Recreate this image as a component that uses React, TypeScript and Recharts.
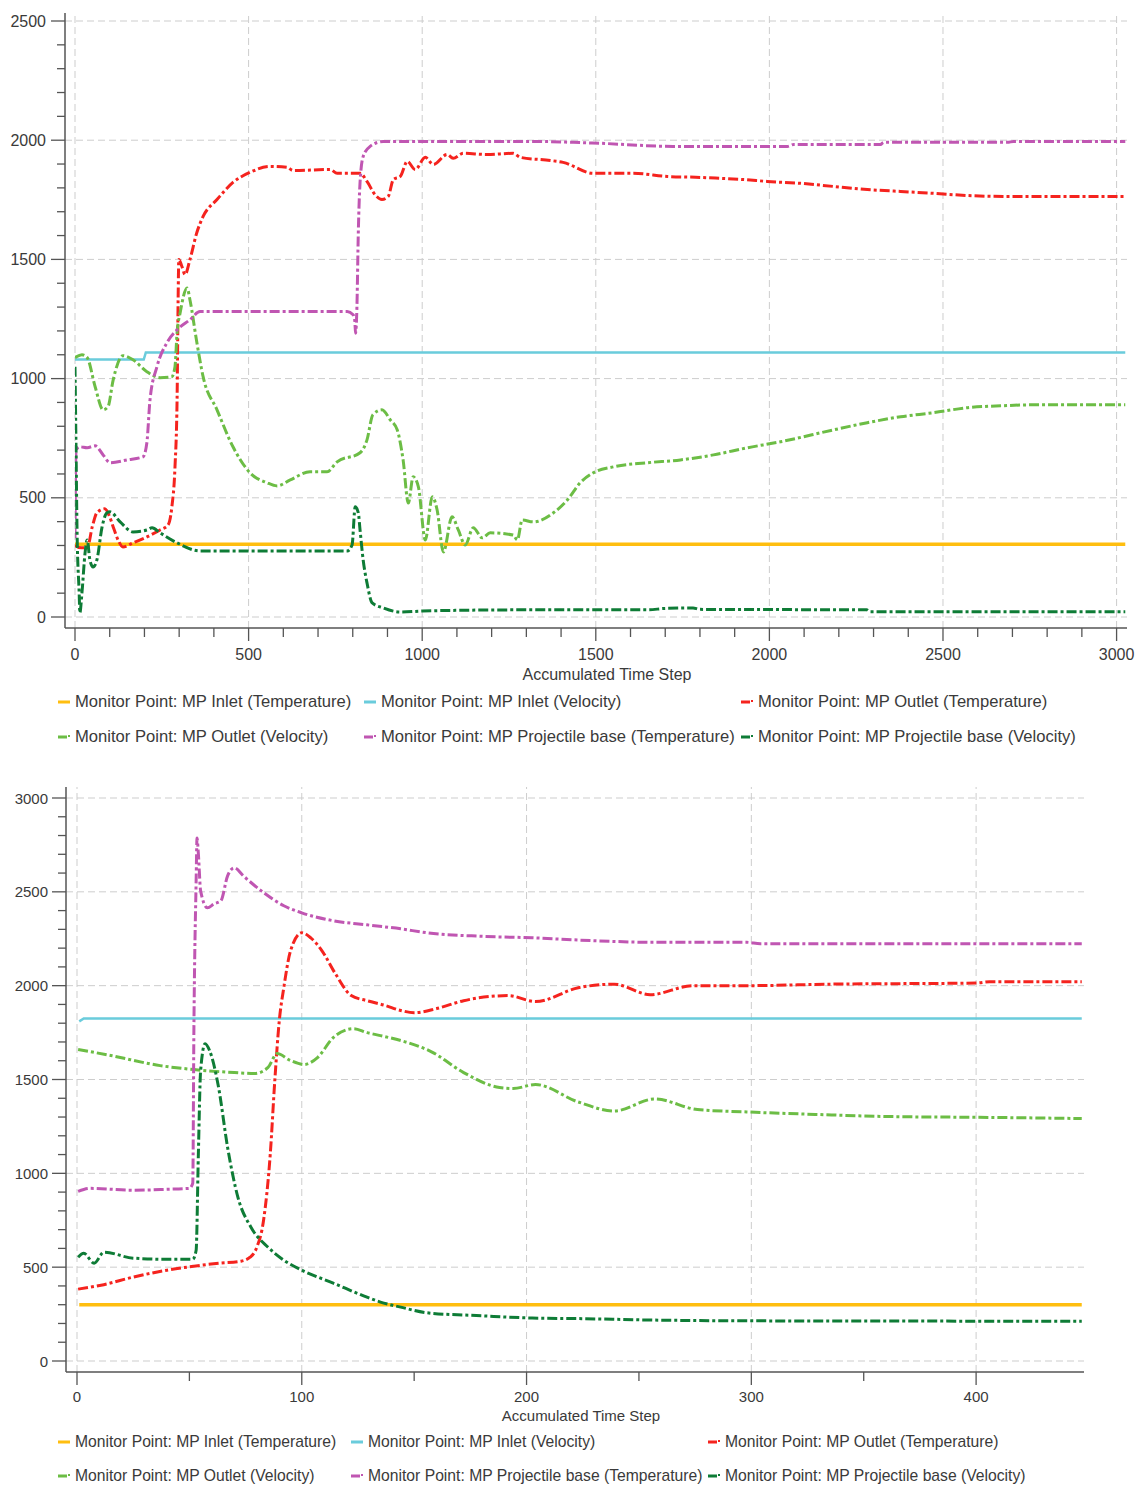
import React from 'react';
import { LineChart, Line, XAxis, YAxis, ReferenceLine, Label } from 'recharts';

type Pt = [number, number];

const SERIES_NAMES = [
  'Monitor Point: MP Inlet (Temperature)',
  'Monitor Point: MP Inlet (Velocity)',
  'Monitor Point: MP Outlet (Temperature)',
  'Monitor Point: MP Outlet (Velocity)',
  'Monitor Point: MP Projectile base (Temperature)',
  'Monitor Point: MP Projectile base (Velocity)',
];
const SERIES_COLORS = ['#FFBE0F', '#6ACCDC', '#F5231E', '#6CBD45', '#C056B2', '#0E7C36'];
const SERIES_SOLID = [true, true, false, false, false, false];

const X_TITLE = 'Accumulated Time Step';

// ---------- Top chart (full run) ----------
const topXTicks = [0, 100, 200, 300, 400, 500, 600, 700, 800, 900, 1000, 1100, 1200, 1300, 1400, 1500, 1600, 1700, 1800, 1900, 2000, 2100, 2200, 2300, 2400, 2500, 2600, 2700, 2800, 2900, 3000];
const topYTicks = [0, 100, 200, 300, 400, 500, 600, 700, 800, 900, 1000, 1100, 1200, 1300, 1400, 1500, 1600, 1700, 1800, 1900, 2000, 2100, 2200, 2300, 2400, 2500];
const topGridX = [0, 500, 1000, 1500, 2000, 2500, 3000];
const topGridY = [0, 500, 1000, 1500, 2000, 2500];

const topInletTemp: Pt[] = [[0, 305], [3025, 305]];
const topInletVel: Pt[] = [[0, 1080], [198, 1080], [204, 1110], [3025, 1110]];
const topOutletTemp: Pt[] = [
  [0, 300], [10, 292], [35, 290], [50, 380], [63, 437], [86, 454], [100, 420], [110, 378], [125, 320], [138, 294],
  [167, 311], [207, 336], [245, 365], [268, 386], [279, 462], [288, 630], [294, 911], [297, 1331], [299, 1500],
  [308, 1470], [317, 1436], [331, 1499], [351, 1613], [369, 1680], [409, 1751], [455, 1823], [504, 1865], [562, 1890],
  [611, 1886], [628, 1873], [735, 1877], [755, 1861], [821, 1861], [841, 1827], [865, 1770], [884, 1751], [902, 1764],
  [917, 1835], [937, 1848], [957, 1911], [980, 1877], [1009, 1928], [1032, 1898], [1072, 1940], [1089, 1924],
  [1118, 1945], [1187, 1940], [1262, 1945], [1283, 1928], [1369, 1915], [1406, 1907], [1493, 1861], [1608, 1861],
  [1706, 1848], [1801, 1844], [1859, 1840], [1925, 1835], [1994, 1827], [2090, 1819], [2185, 1806], [2282, 1793],
  [2378, 1785], [2473, 1777], [2571, 1768], [2686, 1764], [3025, 1764],
];
const topOutletVel: Pt[] = [
  [0, 1088], [20, 1100], [35, 1088], [58, 966], [81, 869], [95, 882], [110, 995], [138, 1096], [167, 1079], [207, 1029],
  [245, 1004], [279, 1008], [288, 1050], [294, 1193], [303, 1277], [323, 1380], [331, 1331], [351, 1151], [369, 1008],
  [409, 869], [455, 714], [504, 605], [553, 563], [582, 550], [620, 575], [677, 609], [726, 609], [755, 651], [821, 689],
  [841, 743], [858, 848], [884, 869], [908, 827], [928, 785], [945, 659], [960, 478], [974, 588], [989, 546],
  [1009, 323], [1029, 504], [1043, 449], [1061, 273], [1086, 420], [1104, 365], [1124, 302], [1147, 374], [1173, 332],
  [1196, 353], [1262, 344], [1274, 323], [1288, 407], [1320, 399], [1378, 437], [1418, 491], [1455, 563], [1493, 605],
  [1551, 630], [1648, 647], [1744, 659], [1839, 680], [1937, 710], [2032, 735], [2185, 785], [2282, 815], [2378, 840],
  [2473, 857], [2571, 878], [2666, 886], [2761, 890], [3025, 890],
];
const topProjTemp: Pt[] = [
  [0, 330], [3, 701], [14, 714], [35, 710], [58, 718], [81, 680], [101, 647], [150, 659], [196, 672], [207, 731],
  [216, 911], [236, 1050], [265, 1151], [294, 1205], [331, 1247], [360, 1281], [784, 1281], [801, 1268], [806, 1240],
  [808, 1190], [812, 1300], [816, 1613], [821, 1823], [830, 1932], [850, 1974], [888, 1995], [1320, 1995], [1435, 1991],
  [1513, 1987], [1723, 1974], [2052, 1974], [2070, 1982], [2320, 1982], [2329, 1991], [2686, 1991], [2703, 1995],
  [3025, 1995],
];
const topProjVel: Pt[] = [
  [0, 1050], [3, 701], [6, 353], [12, 101], [14, 17], [20, 101], [29, 269], [35, 323], [43, 239], [52, 210], [63, 239],
  [78, 378], [92, 437], [101, 441], [130, 399], [167, 357], [207, 365], [222, 374], [245, 353], [294, 311], [360, 277],
  [784, 277], [798, 302], [807, 462], [816, 437], [821, 365], [830, 239], [841, 143], [856, 59], [888, 38], [937, 21],
  [1000, 25], [1100, 28], [1300, 30], [1650, 30], [1700, 36], [1780, 38], [1800, 32], [2280, 30], [2290, 22], [3025, 22],
];

// ---------- Bottom chart (early steps) ----------
const botXTicks = [0, 50, 100, 150, 200, 250, 300, 350, 400];
const botYTicks = [0, 100, 200, 300, 400, 500, 600, 700, 800, 900, 1000, 1100, 1200, 1300, 1400, 1500, 1600, 1700, 1800, 1900, 2000, 2100, 2200, 2300, 2400, 2500, 2600, 2700, 2800, 2900, 3000];
const botGridX = [0, 100, 200, 300, 400];
const botGridY = [0, 500, 1000, 1500, 2000, 2500, 3000];

const botInletTemp: Pt[] = [[1, 300], [447, 300]];
const botInletVel: Pt[] = [[1, 1810], [3, 1825], [447, 1825]];
const botOutletTemp: Pt[] = [
  [0.5, 383], [10.7, 404], [25, 447], [40, 484], [52, 505], [63, 521], [73, 532], [77, 553], [80, 606], [83, 750],
  [86, 1106], [88, 1495], [90, 1814], [92, 1989], [95, 2186], [100, 2282], [104, 2255], [109, 2186], [115, 2063],
  [122, 1947], [129, 1920], [137, 1895], [144, 1868], [150, 1856], [160, 1878], [172, 1920], [192, 1947], [204, 1915],
  [223, 1989], [239, 2008], [255, 1952], [274, 2000], [298, 2000], [335, 2008], [400, 2014], [406, 2021], [447, 2021],
];
const botOutletVel: Pt[] = [
  [0.5, 1660], [15, 1628], [37, 1574], [52, 1553], [70, 1537], [79, 1532], [85, 1564], [89, 1638], [95, 1601],
  [101, 1580], [107, 1617], [114, 1723], [123, 1771], [129, 1750], [135, 1734], [147, 1697], [157.5, 1649], [172, 1537],
  [188, 1457], [194, 1452], [204, 1473], [223, 1380], [239, 1332], [257, 1396], [276, 1340], [298, 1327], [328.5, 1314],
  [359, 1303], [406, 1298], [447, 1292],
];
const botProjTemp: Pt[] = [
  [0.5, 904], [6, 920], [25, 910], [40, 915], [50, 920], [51.5, 947], [52, 1761], [53, 2558], [53.4, 2787], [54, 2702],
  [55, 2505], [58, 2415], [61, 2436], [64, 2452], [67, 2585], [70, 2628], [74, 2585], [82, 2505], [92, 2426],
  [100, 2388], [114, 2346], [129, 2324], [144, 2303], [155.6, 2282], [180, 2263], [202.5, 2255], [229, 2240],
  [257, 2231], [298, 2231], [304, 2223], [447, 2223],
];
const botProjVel: Pt[] = [
  [0.5, 553], [3, 574], [7.6, 521], [12, 580], [25, 548], [40, 542], [51.5, 542], [53, 590], [54, 1106], [55, 1548],
  [57, 1691], [59, 1654], [63, 1457], [67, 1138], [71.6, 872], [77.4, 713], [85, 606], [92, 537], [100, 484],
  [114, 415], [129, 340], [135, 314], [144, 287], [155.6, 257], [180, 241], [202.5, 229], [223, 226], [257, 218],
  [300, 214], [447, 212],
];

const topSeries: Pt[][] = [topInletTemp, topInletVel, topOutletTemp, topOutletVel, topProjTemp, topProjVel];
const botSeries: Pt[][] = [botInletTemp, botInletVel, botOutletTemp, botOutletVel, botProjTemp, botProjVel];

const toRows = (pts: Pt[]) => pts.map(([x, y]) => ({ x, y }));

const FONT = '"Liberation Sans", Arial, sans-serif';
const AXIS_COLOR = '#555';
const TEXT_COLOR = '#3a3a3a';
const GRID_COLOR = '#cdcdcd';

const makeXTick = (major: number, fontSize: number, labelDy: number) => (props: any) => {
  const { x, y, payload } = props;
  const v = payload.value;
  const isMajor = v % major === 0;
  return (
    <g>
      <line x1={x} y1={y} x2={x} y2={y + (isMajor ? 13 : 9)} stroke={AXIS_COLOR} strokeWidth={1.3} />
      {isMajor && (
        <text x={x} y={y + labelDy} textAnchor="middle" dominantBaseline="central" fontSize={fontSize} fontFamily={FONT} fill={TEXT_COLOR}>
          {v}
        </text>
      )}
    </g>
  );
};

const makeYTick = (major: number, fontSize: number, labelDx: number) => (props: any) => {
  const { x, y, payload } = props;
  const v = payload.value;
  const isMajor = v % major === 0;
  return (
    <g>
      <line x1={x - (isMajor ? 14 : 8)} y1={y} x2={x} y2={y} stroke={AXIS_COLOR} strokeWidth={1.3} />
      {isMajor && (
        <text x={x - labelDx} y={y} textAnchor="end" dominantBaseline="central" fontSize={fontSize} fontFamily={FONT} fill={TEXT_COLOR}>
          {v}
        </text>
      )}
    </g>
  );
};

const makeTitle = (fontSize: number, dx: number, dy: number) => (props: any) => {
  const vb = props.viewBox || { x: 0, y: 0, width: 0, height: 0 };
  return (
    <text x={vb.x + vb.width / 2 + dx} y={vb.y + dy} textAnchor="middle" dominantBaseline="central" fontSize={fontSize} fontFamily={FONT} fill={TEXT_COLOR}>
      {X_TITLE}
    </text>
  );
};

function renderLines(series: Pt[][]) {
  return series.map((pts, i) => (
    <Line
      key={i}
      data={toRows(pts)}
      dataKey="y"
      name={SERIES_NAMES[i]}
      type={SERIES_SOLID[i] ? 'linear' : 'monotone'}
      stroke={SERIES_COLORS[i]}
      strokeWidth={SERIES_SOLID[i] ? (i === 0 ? 3.5 : 2.5) : 3}
      strokeDasharray={SERIES_SOLID[i] ? undefined : '10 3 3 3'}
      dot={false}
      activeDot={false}
      isAnimationActive={false}
    />
  ));
}

function LegendIcon({ index }: { index: number }) {
  const c = SERIES_COLORS[index];
  return (
    <svg width={12} height={4} style={{ marginRight: 5, flex: 'none' }}>
      {SERIES_SOLID[index] ? (
        <rect x={0} y={0.5} width={12} height={3} fill={c} />
      ) : (
        <g>
          <rect x={0} y={0.5} width={9} height={3} fill={c} />
          <rect x={10} y={0} width={2} height={2} fill={c} />
        </g>
      )}
    </svg>
  );
}

function LegendBlock({ rows, cols, fontSize }: { rows: number[]; cols: number[]; fontSize: number }) {
  return (
    <>
      {SERIES_NAMES.map((name, i) => {
        const row = Math.floor(i / 3);
        const col = i % 3;
        return (
          <div
            key={i}
            style={{
              position: 'absolute',
              left: cols[col] - 17,
              top: rows[row] - 11,
              height: 22,
              display: 'flex',
              alignItems: 'center',
              whiteSpace: 'nowrap',
              fontFamily: FONT,
              fontSize,
              color: TEXT_COLOR,
            }}
          >
            <LegendIcon index={i} />
            <span>{name}</span>
          </div>
        );
      })}
    </>
  );
}

export default function App() {
  return (
    <div style={{ position: 'absolute', left: 0, top: 0, width: 1136, height: 1485, background: '#fff', fontFamily: FONT }}>
      <div style={{ position: 'absolute', left: 0, top: 0 }}>
        <LineChart width={1136} height={700} margin={{ top: 13, right: 9, bottom: 0, left: 0 }}>
          <XAxis
            type="number"
            dataKey="x"
            domain={[0, 3030]}
            ticks={topXTicks}
            interval={0}
            tickSize={0}
            tickMargin={0}
            tickLine={false}
            tick={makeXTick(500, 16, 26)}
            axisLine={{ stroke: AXIS_COLOR, strokeWidth: 1.5 }}
            padding={{ left: 10, right: 0 }}
            height={72}
            allowDataOverflow
          >
            <Label content={makeTitle(16, 11, 46)} />
          </XAxis>
          <YAxis
            type="number"
            domain={[0, 2500]}
            ticks={topYTicks}
            interval={0}
            width={65}
            tickSize={0}
            tickMargin={0}
            tickLine={false}
            tick={makeYTick(500, 16, 19)}
            axisLine={{ stroke: AXIS_COLOR, strokeWidth: 1.5 }}
            padding={{ top: 8, bottom: 11 }}
            allowDataOverflow
          />
          {topGridX.map((v) => (
            <ReferenceLine key={'gx' + v} x={v} stroke={GRID_COLOR} strokeDasharray="7 4" strokeWidth={1} />
          ))}
          {topGridY.map((v) => (
            <ReferenceLine key={'gy' + v} y={v} stroke={GRID_COLOR} strokeDasharray="7 4" strokeWidth={1} />
          ))}
          {renderLines(topSeries)}
        </LineChart>
      </div>
      <LegendBlock rows={[702, 737]} cols={[75, 381, 758]} fontSize={16.6} />

      <div style={{ position: 'absolute', left: 0, top: 760 }}>
        <LineChart width={1136} height={672} margin={{ top: 27, right: 52, bottom: 0, left: 0 }}>
          <XAxis
            type="number"
            dataKey="x"
            domain={[0, 448]}
            ticks={botXTicks}
            interval={0}
            tickSize={0}
            tickMargin={0}
            tickLine={false}
            tick={makeXTick(100, 15, 24.5)}
            axisLine={{ stroke: AXIS_COLOR, strokeWidth: 1.5 }}
            padding={{ left: 11, right: 0 }}
            height={60}
            allowDataOverflow
          >
            <Label content={makeTitle(15, 6, 43)} />
          </XAxis>
          <YAxis
            type="number"
            domain={[0, 3000]}
            ticks={botYTicks}
            interval={0}
            width={66}
            tickSize={0}
            tickMargin={0}
            tickLine={false}
            tick={makeYTick(500, 15, 18)}
            axisLine={{ stroke: AXIS_COLOR, strokeWidth: 1.5 }}
            padding={{ top: 11, bottom: 11 }}
            allowDataOverflow
          />
          {botGridX.map((v) => (
            <ReferenceLine key={'gx' + v} x={v} stroke={GRID_COLOR} strokeDasharray="7 4" strokeWidth={1} />
          ))}
          {botGridY.map((v) => (
            <ReferenceLine key={'gy' + v} y={v} stroke={GRID_COLOR} strokeDasharray="7 4" strokeWidth={1} />
          ))}
          {renderLines(botSeries)}
        </LineChart>
      </div>
      <LegendBlock rows={[1441.5, 1476]} cols={[75, 368, 725]} fontSize={15.7} />
    </div>
  );
}
